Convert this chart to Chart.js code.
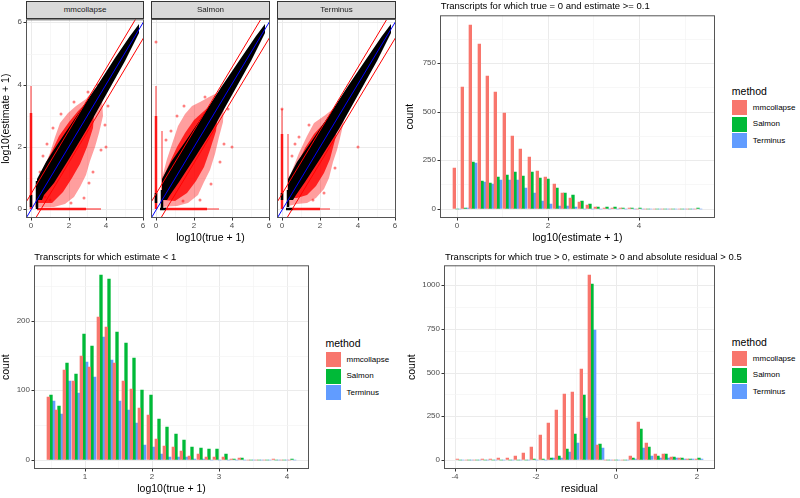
<!DOCTYPE html>
<html>
<head>
<meta charset="utf-8">
<script src="https://cdn.jsdelivr.net/npm/chart.js@4.4.1/dist/chart.umd.min.js"></script>
<style>
  body { margin: 0; width: 800px; height: 498px; position: relative; overflow: hidden; background: #fff; font-family: "Liberation Sans", Arial, sans-serif; }
  canvas { position: absolute; }
  .txt { position: absolute; white-space: nowrap; line-height: 12px; height: 12px; }
  .strip { position: absolute; top: 1px; height: 18px; background: #d9d9d9; border: 1px solid #333; box-sizing: border-box; font-size: 8px; color: #1a1a1a; text-align: center; line-height: 16px; }
  .key { position: absolute; width: 15px; height: 15px; }
</style>
</head>
<body>
<canvas id="f1" width="150" height="237" style="left:0px;top:13px"></canvas>
<canvas id="f2" width="130" height="237" style="left:146px;top:13px"></canvas>
<canvas id="f3" width="131" height="237" style="left:271px;top:13px"></canvas>
<canvas id="zeroChart" width="322" height="241" style="left:400px;top:9px"></canvas>
<canvas id="lowChart" width="316" height="239" style="left:0px;top:259px"></canvas>
<canvas id="residChart" width="322" height="239" style="left:400px;top:259px"></canvas>
<script>
const FONT = '"Liberation Sans", Arial, sans-serif';
const methods = ["mmcollapse", "Salmon", "Terminus"];
const colors = ["#F8766D", "#00BA38", "#619CFF"];

// Top right: transcripts with true = 0 and estimate >= 0.1 (bin centres, counts)
const zeroBins = [0, 0.183, 0.366, 0.548, 0.731, 0.914, 1.097, 1.28, 1.462, 1.645, 1.828, 2.011, 2.194, 2.376, 2.559,
  2.742, 2.925, 3.108, 3.29, 3.473, 3.656, 3.839, 4.022, 4.204, 4.387, 4.57, 4.753, 4.936, 5.118, 5.301];
const zeroMmc = [212, 629, 948, 847, 685, 601, 494, 377, 310, 266, 194, 166, 125, 81, 57, 36, 22, 10, 6, 6, 3, 2, 0, 0, 0, 0, 0, 0, 0, 0];
const zeroSalmon = [0, 6, 240, 143, 133, 165, 173, 191, 168, 188, 157, 155, 106, 81, 69, 40, 27, 11, 7, 7, 3, 4, 4, 0, 0, 0, 0, 0, 0, 4];
const zeroTerminus = [0, 6, 234, 140, 129, 146, 146, 150, 106, 80, 42, 26, 15, 13, 7, 1, 0, 0, 0, 0, 0, 0, 0, 0, 0, 0, 0, 0, 0, 0];

// Bottom left: transcripts with estimate < 1
const lowBins = [0.495, 0.619, 0.743, 0.867, 0.99, 1.114, 1.238, 1.362, 1.486, 1.61, 1.733, 1.857, 1.981, 2.105, 2.229,
  2.352, 2.476, 2.6, 2.724, 2.848, 2.971, 3.095, 3.219, 3.343, 3.467, 3.59, 3.714, 3.838, 3.962, 4.086];
const lowMmc = [91, 71, 129, 113, 150, 134, 206, 191, 140, 114, 102, 75, 64, 30, 20, 19, 12, 5, 8, 4, 4, 4, 1, 2, 0, 0, 0, 1, 0, 0];
const lowSalmon = [94, 77, 140, 123, 181, 164, 267, 261, 184, 168, 146, 100, 93, 59, 47, 37, 28, 18, 17, 16, 16, 8, 1, 2, 0, 0, 0, 0, 0, 1];
const lowTerminus = [84, 66, 114, 96, 141, 120, 177, 144, 84, 71, 53, 21, 18, 8, 4, 4, 4, 1, 1, 0, 0, 0, 0, 0, 0, 0, 0, 0, 0, 0];

// Bottom right: residuals with |residual| > 0.5
const residBins = [-3.867, -3.663, -3.46, -3.256, -3.053, -2.849, -2.646, -2.442, -2.239, -2.035, -1.832, -1.628, -1.425,
  -1.221, -1.018, -0.814, -0.611, -0.407, -0.204, 0, 0.204, 0.407, 0.611, 0.814, 1.018, 1.221, 1.425, 1.628, 1.832, 2.035];
const residMmc = [2, 0, 0, 4, 4, 8, 12, 21, 38, 73, 144, 210, 285, 379, 390, 523, 1062, 86, 0, 0, 0, 19, 215, 96, 33, 33, 15, 10, 4, 3];
const residSalmon = [0, 0, 0, 0, 0, 0, 0, 0, 0, 2, 2, 12, 21, 62, 148, 369, 1010, 90, 0, 0, 0, 10, 177, 75, 23, 31, 13, 10, 4, 8];
const residTerminus = [0, 0, 0, 0, 0, 0, 0, 0, 0, 1, 1, 8, 12, 44, 96, 240, 742, 67, 0, 0, 0, 2, 65, 19, 8, 12, 8, 3, 3, 2];

// Top left scatter facets: reference lines and outlines of the point clouds (log10 scale)
const diagLine = [[-1, -1], [7, 7]];
const upperLine = [[-1, -0.47], [7, 7.53]];
const lowerLine = [[-1, -1.5], [7, 6.5]];
const bandPoly = [[0.3, 0.3], [0.3, 0.95], [0.8, 1.5], [1.5, 2.15], [2.5, 3.05], [3.5, 3.95], [4.5, 4.85], [5.3, 5.55],
  [5.75, 5.95], [5.75, 5.65], [5.0, 4.75], [4.0, 3.65], [3.0, 2.58], [2.0, 1.6], [1.2, 0.85], [0.7, 0.45], [0.55, 0.3]];

const mmcOuter = [[0.2, 0.05], [0.3, 0.8], [0.6, 1.25], [1.0, 1.8], [1.25, 2.3], [1.55, 2.75], [1.95, 3.1], [2.4, 3.3],
  [2.9, 3.55], [3.4, 3.9], [3.8, 3.6], [3.85, 3.0], [3.6, 2.45], [3.4, 2.0], [3.15, 1.55], [2.9, 1.1], [2.6, 0.7],
  [2.3, 0.4], [1.8, 0.15], [1.2, 0.05]];
const mmcInner = [[0.35, 0.2], [0.35, 0.9], [0.7, 1.35], [1.1, 1.85], [1.5, 2.35], [2.0, 2.8], [2.5, 3.15], [3.0, 3.45],
  [3.4, 3.45], [3.3, 2.6], [3.0, 2.0], [2.6, 1.45], [2.2, 1.0], [1.7, 0.55], [1.1, 0.2]];
const mmcPoints = [[4.0, 2.0], [0.75, 0.4], [1.0, 0.3], [2.8, 0.35], [3.3, 1.2], [3.7, 1.9], [0.6, 1.7], [0.85, 2.1],
  [1.15, 2.6], [1.6, 3.05], [2.3, 3.45], [3.05, 3.75], [3.55, 3.98], [2.1, 0.2], [3.1, 0.85], [0.45, 1.2], [4.1, 3.3], [3.95, 2.7]];

const salOuter = [[0.25, 0.05], [0.3, 1.0], [0.55, 1.6], [0.85, 2.1], [1.15, 2.65], [1.5, 3.05], [1.9, 3.3], [2.3, 3.45],
  [2.8, 3.6], [3.3, 3.75], [3.6, 3.4], [3.55, 2.8], [3.3, 2.3], [3.1, 1.75], [2.85, 1.25], [2.55, 0.85], [2.2, 0.45],
  [1.7, 0.2], [1.1, 0.08]];
const salInner = [[0.35, 0.3], [0.35, 1.0], [0.7, 1.5], [1.1, 2.0], [1.5, 2.45], [2.0, 2.85], [2.5, 3.15], [3.0, 3.4],
  [3.3, 3.3], [3.15, 2.5], [2.85, 1.9], [2.5, 1.35], [2.1, 0.9], [1.6, 0.5], [1.0, 0.25]];
const salPoints = [[4.0, 2.0], [0.0, 5.37], [0.5, 2.2], [0.75, 2.5], [1.1, 3.0], [1.45, 3.3], [2.6, 3.6], [3.5, 3.9],
  [3.6, 2.1], [3.4, 1.5], [2.9, 0.8], [2.3, 0.3], [1.4, 0.25], [0.6, 0.6], [3.8, 3.2]];

const terOuter = [[0.3, 0.1], [0.3, 0.9], [0.55, 1.3], [0.9, 1.8], [1.3, 2.35], [1.7, 2.75], [2.2, 3.0], [2.7, 3.2],
  [3.2, 3.45], [3.3, 3.0], [3.1, 2.4], [2.9, 1.9], [2.7, 1.5], [2.45, 1.0], [2.2, 0.65], [1.8, 0.35], [1.3, 0.2], [0.8, 0.15]];
const terInner = [[0.4, 0.35], [0.4, 0.95], [0.75, 1.4], [1.2, 1.95], [1.7, 2.4], [2.2, 2.75], [2.8, 3.1], [3.0, 2.9],
  [2.8, 2.2], [2.5, 1.6], [2.2, 1.15], [1.8, 0.75], [1.3, 0.45], [0.8, 0.35]];
const terPoints = [[4.0, 2.0], [0.5, 1.7], [0.65, 2.1], [0.9, 2.3], [1.4, 2.7], [3.1, 2.8], [2.8, 1.3], [2.2, 0.5],
  [1.6, 0.3], [3.4, 3.3], [0, 3.2]];

// dense streaks along the axes: [dense segment, faint segment]
const mmcStreaks = { zeroTrue: [[[0, 0], [0, 3.1]], [[0, 3.1], [0, 3.96]]], zeroEst: [[[0.3, 0], [2.9, 0]], [[2.9, 0], [3.75, 0]]], nearZero: [] };
const salStreaks = { zeroTrue: [[[0, 0], [0, 3.0]], [[0, 3.0], [0, 3.95]]], zeroEst: [[[0.45, 0], [2.7, 0]], [[2.7, 0], [3.3, 0]]], nearZero: [[0.28, 0.3], [0.28, 2.5]] };
const terStreaks = { zeroTrue: [[[0, 0], [0, 2.4]], [[0, 2.4], [0, 3.2]]], zeroEst: [[[0.55, 0], [2.0, 0]], [[2.0, 0], [2.5, 0]]], nearZero: [[0.28, 0.3], [0.28, 2.4]] };
const mmcBlack = [[[0, 0.05], [0, 0.45]], [[0.28, 0.0], [0.28, 0.9]]];
const salBlack = [[[0, 0.2], [0, 0.5]], [[0.2, 0], [0.5, 0]], [[0.28, 0.0], [0.28, 0.6]]];
const terBlack = [[[0, 0.3], [0, 0.5]], [[0.2, 0], [0.55, 0]], [[0.28, 0.05], [0.28, 0.6]]];

const scatterMajor = [0, 2, 4, 6];
const scatterMinor = [1, 3, 5];

const pts = (arr) => arr.map(([x, y]) => ({ x, y }));
const pairs = (xs, ys) => xs.map((x, i) => ({ x, y: ys[i] }));

const panelBorder = {
  id: "panelBorder",
  afterDraw(chart) {
    const { ctx, chartArea: a } = chart;
    ctx.save();
    ctx.strokeStyle = "#555";
    ctx.lineWidth = 1;
    ctx.strokeRect(a.left + 0.5, a.top + 0.5, a.right - a.left - 1, a.bottom - a.top - 1);
    ctx.restore();
  },
};

function axis(o) {
  const all = o.major.concat(o.minor).sort((a, b) => a - b);
  const isMajor = (c) => c.tick && o.major.includes(c.tick.value);
  const show = o.labels !== false;
  return {
    type: "linear",
    min: o.min,
    max: o.max,
    offset: false,
    alignToPixels: true,
    afterBuildTicks: (s) => { s.ticks = all.map((v) => ({ value: v })); },
    afterFit: (s) => { if (s.isHorizontal()) s.height = o.size; else s.width = o.size; },
    grid: {
      offset: false,
      color: (c) => (isMajor(c) ? "#ebebeb" : "#f4f4f4"),
      lineWidth: (c) => (isMajor(c) ? 1 : 0.7),
      tickLength: 2.5,
      tickWidth: 1,
      tickColor: (c) => (show && isMajor(c) ? "#333" : "rgba(0,0,0,0)"),
    },
    border: { display: false },
    ticks: {
      display: show,
      autoSkip: false,
      maxRotation: 0,
      padding: o.tickPad || 0,
      color: "#4d4d4d",
      font: { family: FONT, size: 8 },
      callback: (v) => (o.major.includes(v) ? String(v) : ""),
    },
    title: {
      display: !!o.title,
      text: o.title || "",
      color: "#000",
      font: { family: FONT, size: 10.5 },
      padding: o.titlePad || 0,
    },
  };
}

function histogram(id, bins, counts, pad, x, y) {
  new Chart(document.getElementById(id), {
    type: "bar",
    data: {
      datasets: counts.map((c, i) => ({
        label: methods[i],
        data: pairs(bins, c),
        backgroundColor: colors[i],
        borderWidth: 0,
        categoryPercentage: 1,
        barPercentage: 1,
      })),
    },
    options: {
      responsive: false,
      animation: false,
      events: [],
      layout: { padding: pad },
      plugins: { legend: { display: false }, tooltip: { enabled: false } },
      scales: { x: axis(x), y: axis(y) },
    },
    plugins: [panelBorder],
  });
}

function facet(id, f, pad, x, y) {
  const line = (data, color, width, order) => ({
    type: "line", data: pts(data), borderColor: color, borderWidth: width, pointRadius: 0, fill: false, order,
  });
  const poly = (data, color, order) => ({
    type: "line", data: pts(data.concat([data[0]])), borderWidth: 0, borderColor: "rgba(0,0,0,0)",
    backgroundColor: color, pointRadius: 0, fill: "shape", order,
  });
  const datasets = [
    line(diagLine, "#0000ff", 1, 0),
    line(upperLine, "#ff0000", 1, 1),
    line(lowerLine, "#ff0000", 1, 2),
    ...f.black.map((s) => line(s, "#000", 2.5, 3)),
    poly(bandPoly, "#000", 4),
    line(f.streaks.zeroTrue[0], "rgba(255,0,0,0.9)", 2.5, 5),
    line(f.streaks.zeroTrue[1], "rgba(255,0,0,0.45)", 1.8, 5),
    line(f.streaks.zeroEst[0], "rgba(255,0,0,0.9)", 2.5, 5),
    line(f.streaks.zeroEst[1], "rgba(255,0,0,0.45)", 1.8, 5),
    {
      type: "scatter", data: pts(f.points), pointRadius: 1.5, pointBorderWidth: 0,
      pointBackgroundColor: "rgba(255,0,0,0.5)", order: 6,
    },
    poly(f.inner, "rgba(255,0,0,0.8)", 7),
    poly(f.outer, "rgba(255,0,0,0.38)", 8),
  ];
  if (f.streaks.nearZero.length) datasets.push(line(f.streaks.nearZero, "rgba(255,0,0,0.45)", 1.8, 6));
  new Chart(document.getElementById(id), {
    type: "scatter",
    data: { datasets },
    options: {
      responsive: false,
      animation: false,
      events: [],
      layout: { padding: pad },
      plugins: { legend: { display: false }, tooltip: { enabled: false } },
      scales: { x: axis(x), y: axis(y) },
    },
    plugins: [panelBorder],
  });
}

// scatter facets
const sx = { min: -0.287, max: 6.027, major: scatterMajor, minor: scatterMinor, size: 32 };
const sy = { min: -0.29, max: 6.1, major: scatterMajor, minor: scatterMinor };
facet("f1", { outer: mmcOuter, inner: mmcInner, points: mmcPoints, streaks: mmcStreaks, black: mmcBlack },
  { top: 6, right: 6 }, sx,
  { ...sy, size: 26, tickPad: 1.5, title: "log10(estimate + 1)", titlePad: { top: 0, bottom: 0 } });
facet("f2", { outer: salOuter, inner: salInner, points: salPoints, streaks: salStreaks, black: salBlack },
  { top: 6, right: 6, left: 5 },
  { ...sx, title: "log10(true + 1)", titlePad: { top: 0, bottom: 5.7 } },
  { ...sy, size: 0, labels: false });
facet("f3", { outer: terOuter, inner: terInner, points: terPoints, streaks: terStreaks, black: terBlack },
  { top: 6, right: 6, left: 6 }, sx, { ...sy, size: 0, labels: false });

// histograms
histogram("zeroChart", zeroBins, [zeroMmc, zeroSalmon, zeroTerminus], { top: 6, right: 7 },
  { min: -0.365, max: 5.665, major: [0, 2, 4], minor: [1, 3, 5], size: 32, title: "log10(estimate + 1)", titlePad: { top: 0, bottom: 5.7 } },
  { min: -47.4, max: 995.4, major: [0, 250, 500, 750], minor: [125, 375, 625, 875], size: 40, tickPad: 1.5, title: "count", titlePad: { top: 4, bottom: 0 } });
histogram("lowChart", lowBins, [lowMmc, lowSalmon, lowTerminus], { top: 6, right: 7 },
  { min: 0.247, max: 4.334, major: [1, 2, 3, 4], minor: [0.5, 1.5, 2.5, 3.5], size: 29, title: "log10(true + 1)", titlePad: { top: 0, bottom: 2.7 } },
  { min: -13.35, max: 280.35, major: [0, 100, 200], minor: [50, 150, 250], size: 34, tickPad: 1.5, title: "count", titlePad: { top: 0, bottom: 0 } });
histogram("residChart", residBins, [residMmc, residSalmon, residTerminus], { top: 6, right: 7 },
  { min: -4.273, max: 2.442, major: [-4, -2, 0, 2], minor: [-3, -1, 1], size: 29, title: "residual", titlePad: { top: 0, bottom: 2.7 } },
  { min: -53.1, max: 1115, major: [0, 250, 500, 750, 1000], minor: [125, 375, 625, 875], size: 44, tickPad: 1.5, title: "count", titlePad: { top: 5.7, bottom: 0 } });

// text: titles, facet strips, legends
function addText(text, left, mid, size, color) {
  const d = document.createElement("div");
  d.className = "txt";
  d.textContent = text;
  d.style.left = left + "px";
  d.style.top = (mid - 6) + "px";
  d.style.fontSize = size + "px";
  d.style.color = color || "#000";
  document.body.appendChild(d);
}
function addStrip(text, left, right) {
  const d = document.createElement("div");
  d.className = "strip";
  d.textContent = text;
  d.style.left = left + "px";
  d.style.width = (right - left) + "px";
  document.body.appendChild(d);
}
function addLegend(left, mid) {
  addText("method", left - 0.5, mid, 10.5);
  methods.forEach((m, i) => {
    const top = mid + 9.5 + i * 16.6;
    const k = document.createElement("div");
    k.className = "key";
    k.style.left = left + "px";
    k.style.top = top + "px";
    k.style.background = colors[i];
    document.body.appendChild(k);
    addText(m, left + 20.5, top + 7.5, 8);
  });
}

addText("Transcripts for which true = 0 and estimate >= 0.1", 440.7, 5.5, 9.5);
addText("Transcripts for which estimate < 1", 34.3, 256.7, 9.5);
addText("Transcripts for which true > 0, estimate > 0 and absolute residual > 0.5", 445, 256.7, 9.5);
addStrip("mmcollapse", 26, 144);
addStrip("Salmon", 151, 270);
addStrip("Terminus", 277, 396);
addLegend(732.3, 90.7);
addLegend(326, 342.7);
addLegend(732.3, 341.7);
</script>
</body>
</html>
